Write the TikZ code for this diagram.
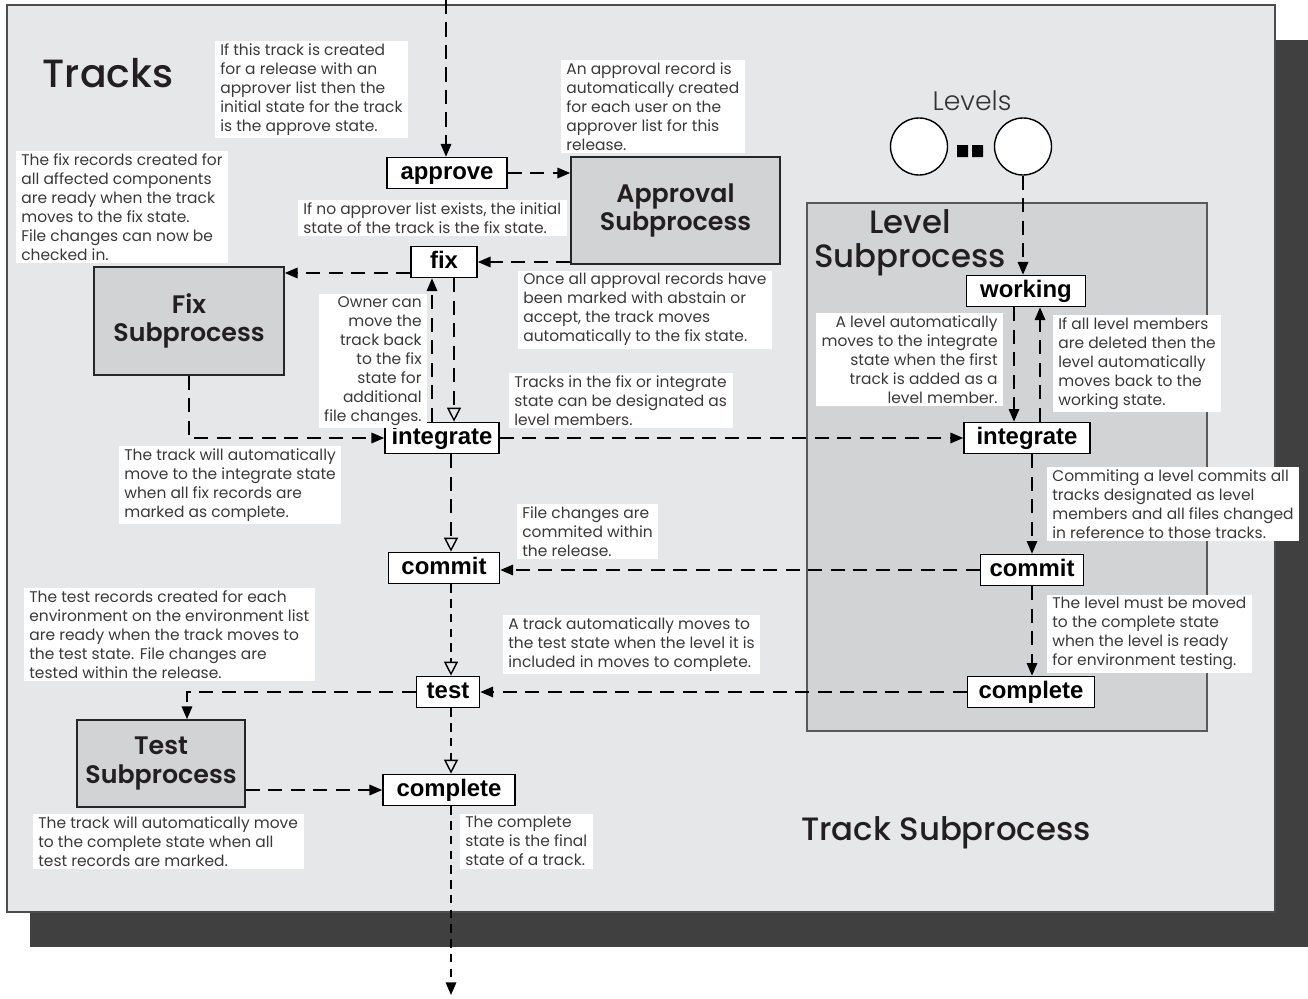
\documentclass[tikz,border=0pt]{standalone}
\usepackage{fontspec}
\setmainfont{Poppins}
\newfontfamily\statefont{Liberation Sans}
\newfontfamily\medfont{Poppins Medium}
\newfontfamily\semifont{Poppins SemiBold}
\newfontfamily\lightfont{Poppins Light}
\usetikzlibrary{arrows.meta,calc}

\definecolor{panel}{HTML}{E6E7E8}
\definecolor{subfill}{HTML}{D1D3D4}
\definecolor{shadowgray}{HTML}{404040}
\definecolor{ink}{HTML}{231F20}
\definecolor{notetext}{HTML}{3A3A3A}

\begin{document}
\begin{tikzpicture}[x=0.025cm,y=-0.025cm,line width=1pt,>={Triangle[length=9pt,width=7.5pt]}]
  \tikzstyle{state box}=[draw,fill=white,line width=1.2pt,minimum height=0.775cm,inner sep=0pt,
                         text height=12.4pt,text depth=3.6pt,
                         font=\statefont\bfseries\fontsize{17}{17}\selectfont]
  \tikzstyle{sub box}=[draw=black!85,fill=subfill,line width=1.2pt,align=center,text=ink,
                       font=\semifont\fontsize{18}{20}\selectfont]
  \tikzstyle{note}=[fill=white,text=notetext,align=left,anchor=north west,inner xsep=4pt,inner ysep=2pt,
                    font=\fontsize{11}{13.5}\selectfont]
  \tikzstyle{title}=[text=ink,align=center,font=\medfont\fontsize{23}{24}\selectfont]
  \tikzstyle{lngdash}=[dash pattern=on 10pt off 6pt]
  \tikzstyle{shtdash}=[dash pattern=on 6pt off 4.5pt]
  \tikzstyle{hollow}=[-{Triangle[open,length=10pt,width=10pt]}]

  \useasboundingbox (0,0) rectangle (1308,999);
  % panel with its shadow
  \fill[shadowgray] (30,40) rectangle (1308,947);
  \draw[fill=panel,draw=black!70,line width=0.8pt] (7,5) rectangle (1275,912);
  \draw[fill=subfill,draw=black!65,line width=1pt] (807,203) rectangle (1207,731);

  % titles
  \node[title,font=\medfont\fontsize{28}{30}\selectfont] (tracks) at (108,73) {Tracks};
  \node[title] (lvltitle) at (910,243) {Level\\Subprocess};
  \node[title] (tstitle) at (946,833) {Track Subprocess};
  \node[title,text=black!80,font=\lightfont\fontsize{19}{20}\selectfont] (levels) at (972,101) {Levels};

  % track states
  \node[state box,minimum width=3.0cm]   (A) at (447,173) {approve};
  \node[state box,minimum width=1.65cm]  (F) at (444,262) {fix};
  \node[state box,minimum width=2.85cm]  (I) at (442,438) {integrate};
  \node[state box,minimum width=2.775cm] (C) at (444,568) {commit};
  \node[state box,minimum width=1.575cm] (T) at (448,692) {test};
  \node[state box,minimum width=3.3cm]   (E) at (449,790) {complete};

  % subprocesses
  \node[sub box,minimum width=5.225cm,minimum height=2.675cm] (AP) at (675.5,210.5) {Approval\\Subprocess};
  \node[sub box,minimum width=4.75cm,minimum height=2.7cm]    (FS) at (189,321) {Fix\\Subprocess};
  \node[sub box,minimum width=4.2cm,minimum height=2.175cm]   (TS) at (161,763.5) {Test\\Subprocess};

  % levels
  \node[circle,draw,fill=white,minimum size=1.425cm] (L1) at (919,146.5) {};
  \node[circle,draw,fill=white,minimum size=1.425cm] (L2) at (1023,146.5) {};
  \fill (957,145) rectangle (968,157) (972,145) rectangle (983,157);
  \node[state box,minimum width=2.975cm] (W)  at (1026,291) {working};
  \node[state box,minimum width=3.15cm]  (LI) at (1027,438) {integrate};
  \node[state box,minimum width=2.575cm] (LC) at (1032,570) {commit};
  \node[state box,minimum width=3.175cm] (LE) at (1031,692) {complete};

  % notes
  \node[note] (n1) at (214,40) {If this track is created\\for a release with an\\approver list then the\\initial state for the track\\is the approve state.};
  \node[note] (n2) at (560,59) {An approval record is\\automatically created\\for each user on the\\approver list for this\\release.};
  \node[note] (n3) at (15,150) {The fix records created for\\all affected components\\are ready when the track\\moves to the fix state.\\File changes can now be\\checked in.};
  \node[note] (n4) at (297,199) {If no approver list exists, the initial\\state of the track is the fix state.};
  \node[note] (n5) at (517,270) {Once all approval records have\\been marked with abstain or\\accept, the track moves\\automatically to the fix state.};
  \node[note,anchor=north east,align=right] (n6) at (428,293) {Owner can\\move the\\track back\\to the fix\\state for\\additional\\file changes.};
  \node[note] (n7) at (508,372) {Tracks in the fix or integrate\\state can be designated as\\level members.};
  \node[note] (n8) at (118,445) {The track will automatically\\move to the integrate state\\when all fix records are\\marked as complete.};
  \node[note] (n9) at (516,503) {File changes are\\commited within\\the release.};
  \node[note] (n10) at (23,587) {The test records created for each\\environment on the environment list\\are ready when the track moves to\\the test state. File changes are\\tested within the release.};
  \node[note] (n11) at (502,614) {A track automatically moves to\\the test state when the level it is\\included in moves to complete.};
  \node[note] (n12) at (32,813) {The track will automatically move\\to the complete state when all\\test records are marked.};
  \node[note] (n13) at (459,813) {The complete\\state is the final\\state of a track.};
  \node[note,anchor=north east,align=right] (n14) at (1004,312) {A level automatically\\moves to the integrate\\state when the first\\track is added as a\\level member.};
  \node[note] (n15) at (1052,314) {If all level members\\are deleted then the\\level automatically\\moves back to the\\working state.};
  \node[note] (n16) at (1046,466) {Commiting a level commits all\\tracks designated as level\\members and all files changed\\in reference to those tracks.};
  \node[note] (n17) at (1046,594) {The level must be moved\\to the complete state\\when the level is ready\\for environment testing.};

  % helper coordinates for the vertical runs
  \coordinate (in)   at (446,0);
  \coordinate (out)  at (451,995);
  \coordinate (mid)  at (451,0);
  \coordinate (back) at (432,0);
  \coordinate (fwd)  at (454,0);
  \coordinate (f1)   at ($(F.west)+(0,11)$);
  \coordinate (wdn)  at (1014,0);
  \coordinate (wup)  at (1040,0);

  % track connectors
  \path[->,lngdash] (in) edge (A.north -| in)
        (A.east) edge (A.east -| AP.west)
        (F.east -| AP.west) edge (F.east)
        (f1) edge (f1 -| FS.east)
        (I.north -| back) edge (F.south -| back)
        (I.east) edge (LI.west)
        (LC.west) edge (LC.west -| C.east)
        (LE.west) edge (T.east)
        (E.west -| TS.east) edge (E.west);
  \draw[->,lngdash] (FS.south) |- (I.west);
  \draw[->,lngdash] (T.west) -| ($(TS.north)+(26,0)$);
  \path[hollow,lngdash] (F.south -| fwd) edge (I.north -| fwd)
        (I.south -| mid) edge (C.north -| mid);
  \path[hollow,shtdash] (C.south -| mid) edge (T.north -| mid)
        (T.south -| mid) edge (E.north -| mid);
  \draw[->,shtdash] (E.south -| mid) -- (out);

  % level connectors
  \path[->,lngdash] (L2.south) edge (L2.south |- W.north)
        (W.south -| wdn) edge (LI.north -| wdn)
        (LI.north -| wup) edge (W.south -| wup)
        (LI.south -| LC.north) edge (LC.north)
        (LC.south) edge (LE.north -| LC.south);
\end{tikzpicture}
\end{document}
